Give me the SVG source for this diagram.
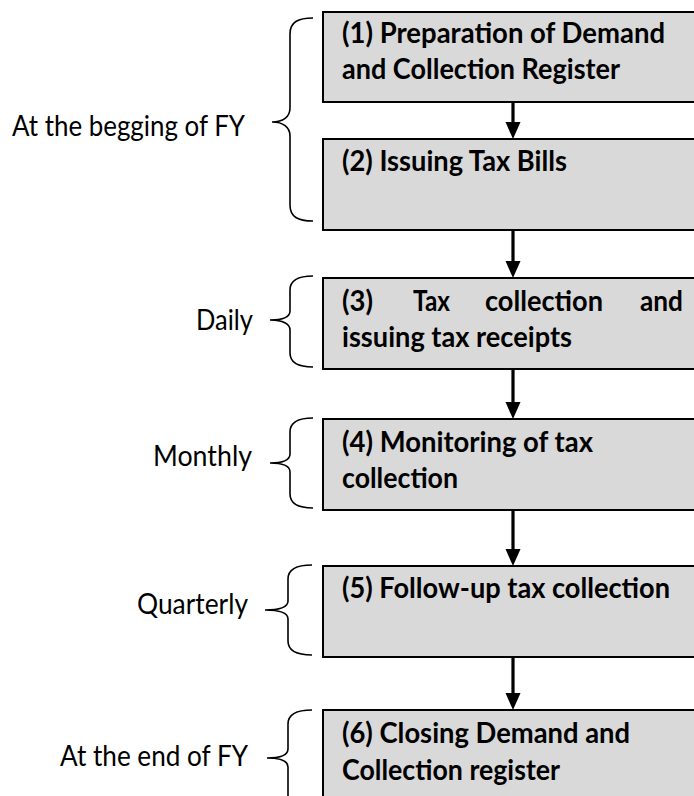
<svg xmlns="http://www.w3.org/2000/svg" width="694" height="796" viewBox="0 0 694 796">
<defs>
<style>
.box{fill:#d9d9d9;stroke:#000;stroke-width:2}
.bt{font-family:Lato,"Open Sans","Liberation Sans",sans-serif;font-weight:bold;font-size:29px;fill:#000}
.lt{font-family:Lato,"Open Sans","Liberation Sans",sans-serif;font-size:29px;fill:#000;text-anchor:end}
.brace{fill:none;stroke:#000;stroke-width:1.6}
.shaft{stroke:#000;stroke-width:3.2}
.head{fill:#000}
</style>
</defs>
<g id="connectors">
<line class="shaft" x1="513" y1="103" x2="513" y2="124"/><path class="head" d="M505.5,122 L520.5,122 L513,139 Z"/>
<line class="shaft" x1="513" y1="231" x2="513" y2="263"/><path class="head" d="M505.5,261 L520.5,261 L513,278 Z"/>
<line class="shaft" x1="513" y1="370" x2="513" y2="404"/><path class="head" d="M505.5,402 L520.5,402 L513,419 Z"/>
<line class="shaft" x1="513" y1="511" x2="513" y2="551"/><path class="head" d="M505.5,549 L520.5,549 L513,566 Z"/>
<line class="shaft" x1="513" y1="658" x2="513" y2="695"/><path class="head" d="M505.5,693 L520.5,693 L513,710 Z"/>
</g>
<g id="node1">
<rect class="box" x="323" y="12" width="380" height="90"/>
<text class="bt" x="342" y="43" textLength="323" lengthAdjust="spacingAndGlyphs">(1) Preparation of Demand</text>
<text class="bt" x="342" y="79" textLength="278" lengthAdjust="spacingAndGlyphs">and Collection Register</text>
</g>
<g id="node2">
<rect class="box" x="323" y="139" width="380" height="91"/>
<text class="bt" x="342" y="171" textLength="225" lengthAdjust="spacingAndGlyphs">(2) Issuing Tax Bills</text>
</g>
<g id="node3">
<rect class="box" x="323" y="278" width="380" height="91"/>
<text class="bt" x="342" y="311" textLength="31" lengthAdjust="spacingAndGlyphs">(3)</text>
<text class="bt" x="413" y="311" textLength="37" lengthAdjust="spacingAndGlyphs">Tax</text>
<text class="bt" x="485" y="311" textLength="118" lengthAdjust="spacingAndGlyphs">collection</text>
<text class="bt" x="640" y="311" textLength="43" lengthAdjust="spacingAndGlyphs">and</text>
<text class="bt" x="342" y="347" textLength="230" lengthAdjust="spacingAndGlyphs">issuing tax receipts</text>
</g>
<g id="node4">
<rect class="box" x="323" y="419" width="380" height="91"/>
<text class="bt" x="342" y="452" textLength="251" lengthAdjust="spacingAndGlyphs">(4) Monitoring of tax</text>
<text class="bt" x="342" y="488" textLength="116" lengthAdjust="spacingAndGlyphs">collection</text>
</g>
<g id="node5">
<rect class="box" x="323" y="566" width="380" height="91"/>
<text class="bt" x="342" y="598" textLength="328" lengthAdjust="spacingAndGlyphs">(5) Follow-up tax collection</text>
</g>
<g id="node6">
<rect class="box" x="323" y="710" width="380" height="100"/>
<text class="bt" x="342" y="743" textLength="288" lengthAdjust="spacingAndGlyphs">(6) Closing Demand and</text>
<text class="bt" x="342" y="780" textLength="218" lengthAdjust="spacingAndGlyphs">Collection register</text>
</g>
<g id="brace1">
<path class="brace" d="M313,18 C298,18 290,22 290,34 L290,108 C290,117 283,122 272,122 C283,122 290,127 290,136 L290,205 C290,217 298,221 313,221"/>
<text class="lt" x="245" y="136" textLength="233" lengthAdjust="spacingAndGlyphs">At the begging of FY</text>
</g>
<g id="brace2">
<path class="brace" d="M313,276 C298,276 290,280 290,290 L290,311 C290,317 283,320 270,320 C283,320 290,324 290,330 L290,353 C290,363 298,367 313,367"/>
<text class="lt" x="253" y="330" textLength="57" lengthAdjust="spacingAndGlyphs">Daily</text>
</g>
<g id="brace3">
<path class="brace" d="M313,418 C298,418 290,422 290,432 L290,454 C290,460 283,463 270,463 C283,463 290,466 290,472 L290,494 C290,504 298,508 313,508"/>
<text class="lt" x="252" y="466" textLength="99" lengthAdjust="spacingAndGlyphs">Monthly</text>
</g>
<g id="brace4">
<path class="brace" d="M312,565 C296,565 288,569 288,579 L288,601 C288,607 280,610 265,610 C280,610 288,613 288,619 L288,641 C288,651 296,655 312,655"/>
<text class="lt" x="248" y="614" textLength="111" lengthAdjust="spacingAndGlyphs">Quarterly</text>
</g>
<g id="brace5">
<path class="brace" d="M312,710 C296,710 288,714 288,724 L288,749 C288,755 281,758 267,758 C281,758 288,761 288,767 L288,796"/>
<text class="lt" x="248" y="766" textLength="188" lengthAdjust="spacingAndGlyphs">At the end of FY</text>
</g>
</svg>
